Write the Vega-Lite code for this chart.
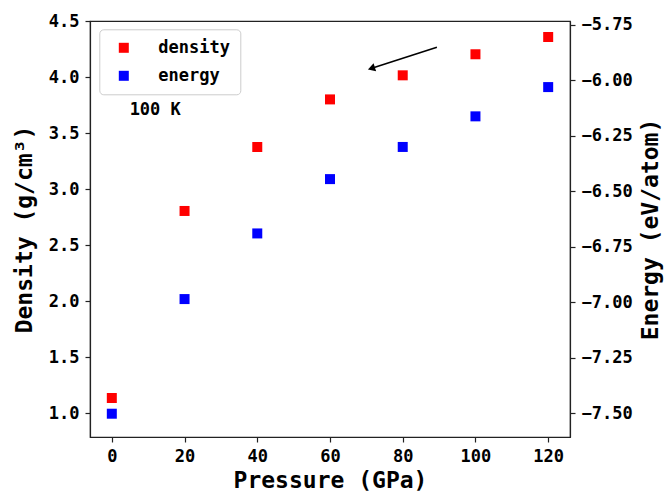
{
  "$schema": "https://vega.github.io/schema/vega-lite/v6.json",
  "width": 480,
  "height": 416,
  "autosize": {"type": "none"},
  "padding": {"left": 90, "top": 21, "right": 94, "bottom": 55},
  "background": "white",
  "config": {
    "view": {"stroke": "#222", "strokeWidth": 1.2},
    "font": "DejaVu Sans Mono",
    "axis": {
      "labelFont": "DejaVu Sans Mono", "labelFontWeight": "bold", "labelFontSize": 17, "labelColor": "black",
      "titleFont": "DejaVu Sans Mono", "titleFontWeight": "bold", "titleFontSize": 23, "titleColor": "black",
      "domainColor": "#222", "tickColor": "#222", "tickSize": 5, "grid": false, "labelPadding": 6, "domainWidth": 1.2, "tickWidth": 1.2
    }
  },
  "datasets": {
    "points": [
      {"pressure": 0, "series": "density", "value": 1.134},
      {"pressure": 20, "series": "density", "value": 2.804},
      {"pressure": 40, "series": "density", "value": 3.375},
      {"pressure": 60, "series": "density", "value": 3.8},
      {"pressure": 80, "series": "density", "value": 4.015},
      {"pressure": 100, "series": "density", "value": 4.203},
      {"pressure": 120, "series": "density", "value": 4.357},
      {"pressure": 0, "series": "energy", "value": -7.503},
      {"pressure": 20, "series": "energy", "value": -6.986},
      {"pressure": 40, "series": "energy", "value": -6.69},
      {"pressure": 60, "series": "energy", "value": -6.445},
      {"pressure": 80, "series": "energy", "value": -6.3},
      {"pressure": 100, "series": "energy", "value": -6.162},
      {"pressure": 120, "series": "energy", "value": -6.03}
    ],
    "arrow": [{"x": 89.4, "y": 4.265, "x2": 71.7, "y2": 4.08}],
    "label": [{"x": 4.9, "y": 3.705, "text": "100 K"}]
  },
  "layer": [
    {
      "layer": [
        {
          "data": {"name": "points"},
          "transform": [{"filter": "datum.series === 'density'"}],
          "mark": {"type": "point", "shape": "square", "filled": true, "size": 100, "opacity": 1},
          "encoding": {
            "x": {"field": "pressure", "type": "quantitative", "scale": {"domain": [-6, 126], "nice": false, "zero": false},
                  "axis": {"values": [0, 20, 40, 60, 80, 100, 120], "title": "Pressure (GPa)", "titlePadding": 5, "labelPadding": 6}},
            "y": {"field": "value", "type": "quantitative", "scale": {"domain": [0.786, 4.5], "nice": false, "zero": false},
                  "axis": {"orient": "left", "values": [1, 1.5, 2, 2.5, 3, 3.5, 4, 4.5], "format": ".1f", "title": "Density (g/cm³)", "titlePadding": 12}},
            "color": {"field": "series", "type": "nominal",
                      "scale": {"domain": ["density", "energy"], "range": ["#ff0000", "#0000ff"]},
                      "legend": {"orient": "none", "legendX": 9.3, "legendY": 8.3, "title": null,
                                 "symbolType": "square", "symbolSize": 100, "symbolStrokeWidth": 0, "symbolOffset": 6,
                                 "labelFont": "DejaVu Sans Mono", "labelFontWeight": "bold", "labelFontSize": 17, "labelColor": "black",
                                 "labelOffset": 26, "rowPadding": 10, "padding": 10,
                                 "strokeColor": "#cccccc", "fillColor": "white", "cornerRadius": 4}}
          }
        },
        {
          "data": {"name": "arrow"},
          "mark": {"type": "rule", "color": "black", "strokeWidth": 1.6},
          "encoding": {
            "x": {"field": "x", "type": "quantitative"},
            "y": {"field": "y", "type": "quantitative"},
            "x2": {"field": "x2"},
            "y2": {"field": "y2"}
          }
        },
        {
          "data": {"name": "arrow"},
          "mark": {"type": "point", "shape": "triangle", "filled": true, "color": "black", "size": 70, "angle": 252, "opacity": 1},
          "encoding": {
            "x": {"field": "x2", "type": "quantitative"},
            "y": {"field": "y2", "type": "quantitative"}
          }
        },
        {
          "data": {"name": "label"},
          "mark": {"type": "text", "align": "left", "baseline": "middle", "font": "DejaVu Sans Mono", "fontWeight": "bold", "fontSize": 17, "color": "black"},
          "encoding": {
            "x": {"field": "x", "type": "quantitative"},
            "y": {"field": "y", "type": "quantitative"},
            "text": {"field": "text"}
          }
        }
      ]
    },
    {
      "data": {"name": "points"},
      "transform": [{"filter": "datum.series === 'energy'"}],
      "mark": {"type": "point", "shape": "square", "filled": true, "size": 100, "opacity": 1},
      "encoding": {
        "x": {"field": "pressure", "type": "quantitative"},
        "y": {"field": "value", "type": "quantitative", "scale": {"domain": [-7.608, -5.732], "nice": false, "zero": false},
              "axis": {"orient": "right", "values": [-7.5, -7.25, -7, -6.75, -6.5, -6.25, -6, -5.75], "format": ".2f", "title": "Energy (eV/atom)", "titleAngle": 270, "titleBaseline": "top", "titlePadding": 7}},
        "color": {"field": "series", "type": "nominal"}
      }
    }
  ],
  "resolve": {"scale": {"y": "independent"}}
}
